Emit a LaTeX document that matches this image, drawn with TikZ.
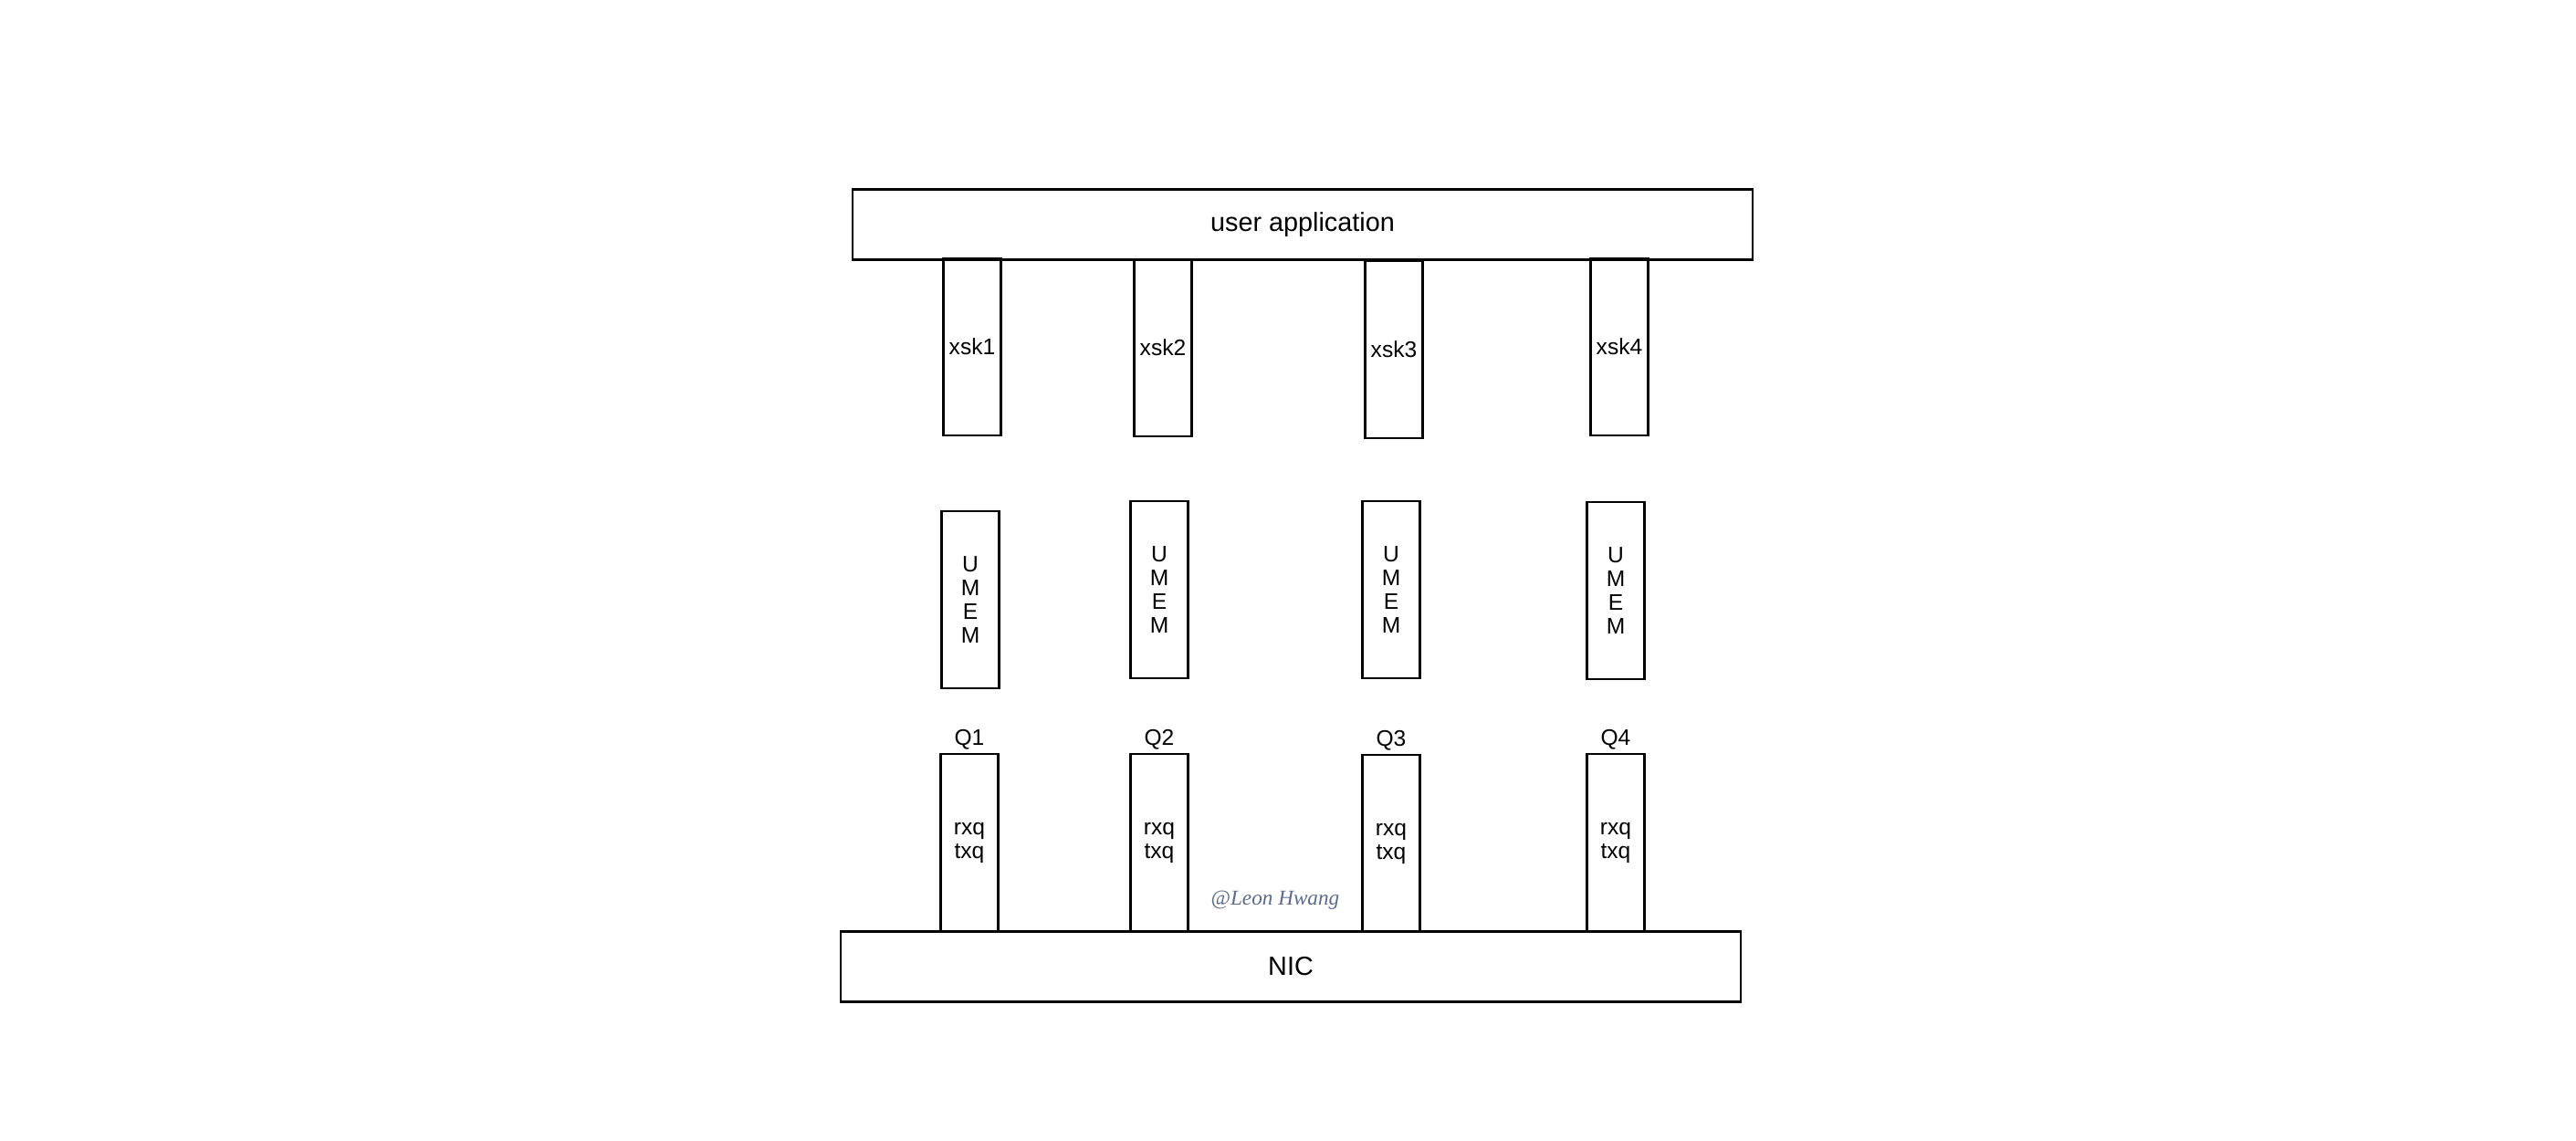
\documentclass[tikz,border=0pt]{standalone}
\usepackage{fontspec}
\setmainfont{Liberation Sans}
\newfontfamily\signfont{Liberation Serif}
\usepackage{xcolor}
\usetikzlibrary{positioning}
\definecolor{signgray}{HTML}{5B6B8C}

\begin{document}
\begin{tikzpicture}[line width=0.75pt,font=\fontsize{7}{7.4}\selectfont]
  \tikzstyle{layer}=[draw,minimum width=9.86cm,minimum height=0.77cm,font=\fontsize{8.2}{10}\selectfont]
  \tikzstyle{column}=[draw,minimum width=0.63cm,minimum height=1.94cm,inner sep=0pt,align=center]
  \tikzstyle{qtag}=[yshift=-2.6pt]

  \useasboundingbox (0,0) rectangle (28.22,12.5);

  % application and sockets
  \node[layer] (app) at (14.27,10.04) {user application};
  \node[column] (xsk1) at (10.65,8.70) {xsk1};
  \node[column] (xsk2) at (12.74,8.69) {xsk2};
  \node[column] (xsk3) at (15.27,8.67) {xsk3};
  \node[column] (xsk4) at (17.74,8.70) {xsk4};

  % umem
  \node[column] (umem1) at (10.63,5.93) {U\\M\\E\\M};
  \node[column] (umem2) at (12.70,6.04) {U\\M\\E\\M};
  \node[column] (umem3) at (15.24,6.04) {U\\M\\E\\M};
  \node[column] (umem4) at (17.70,6.03) {U\\M\\E\\M};

  % queues
  \node[column,label={[qtag]above:Q1}] (q1) at (10.62,3.27) {rxq\\txq};
  \node[column,label={[qtag]above:Q2}] (q2) at (12.70,3.27) {rxq\\txq};
  \node[column,label={[qtag]above:Q3}] (q3) at (15.24,3.26) {rxq\\txq};
  \node[column,label={[qtag]above:Q4}] (q4) at (17.70,3.27) {rxq\\txq};

  \node[layer] (nic) at (14.14,1.91) {NIC};

  \node[text=signgray,font=\fontsize{6.6}{8}\signfont\itshape] (sign) at (13.97,2.64) {@Leon Hwang};
\end{tikzpicture}
\end{document}
